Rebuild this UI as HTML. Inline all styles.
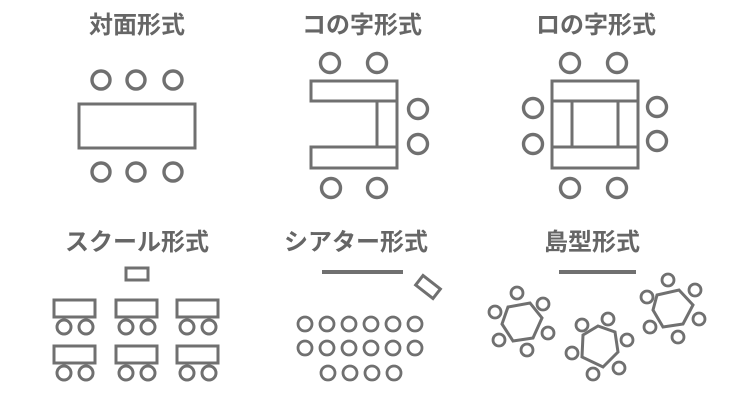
<!DOCTYPE html>
<html><head><meta charset="utf-8"><style>
html,body{margin:0;padding:0;background:#fff;width:750px;height:400px;overflow:hidden}
svg{display:block}
text{font-family:"Liberation Sans","Noto Sans CJK JP",sans-serif;font-weight:bold;font-size:24px;fill:#666;text-anchor:middle}
</style></head><body>
<svg width="750" height="400" viewBox="0 0 750 400" fill="none" stroke="#707070" stroke-width="3">
<g stroke="none">
<text x="137" y="33">対面形式</text>
<text x="362" y="33">コの字形式</text>
<text x="596" y="33">ロの字形式</text>
<text x="137" y="250">スクール形式</text>
<text x="356" y="250">シアター形式</text>
<text x="592" y="250">島型形式</text>
</g>
<!-- facing -->
<rect x="79" y="104" width="116" height="44"/>
<g stroke-width="3.4">
<circle cx="101" cy="80" r="9"/><circle cx="136" cy="80" r="9"/><circle cx="173" cy="80" r="9"/>
<circle cx="101" cy="172" r="9"/><circle cx="136" cy="172" r="9"/><circle cx="173" cy="172" r="9"/>
</g>
<!-- U -->
<rect x="311" y="81" width="86" height="20"/>
<rect x="311" y="147" width="86" height="21"/>
<rect x="377" y="101" width="20" height="46"/>
<g stroke-width="3.4">
<circle cx="330" cy="63" r="9.5"/><circle cx="377" cy="63" r="9.5"/>
<circle cx="418" cy="109" r="9.5"/><circle cx="418" cy="144" r="9.5"/>
<circle cx="331" cy="188" r="9.5"/><circle cx="377" cy="188" r="9.5"/>
</g>
<!-- O -->
<rect x="552" y="81" width="86" height="20"/>
<rect x="552" y="147" width="86" height="21"/>
<rect x="552" y="101" width="20" height="46"/>
<rect x="618" y="101" width="20" height="46"/>
<g stroke-width="3.4">
<circle cx="570" cy="63" r="9.5"/><circle cx="617" cy="63" r="9.5"/>
<circle cx="533" cy="108" r="9.5"/><circle cx="533" cy="144" r="9.5"/>
<circle cx="657" cy="107" r="9.5"/><circle cx="657" cy="141" r="9.5"/>
<circle cx="570" cy="188" r="9.5"/><circle cx="617" cy="188" r="9.5"/>
</g>
<!-- school -->
<rect x="126" y="268" width="22" height="12"/>
<g id="desk">
<rect x="54" y="300" width="41" height="17"/>
<circle cx="64" cy="327" r="7"/><circle cx="86" cy="327" r="7"/>
</g>
<use href="#desk" x="62"/><use href="#desk" x="123"/>
<use href="#desk" y="46"/><use href="#desk" x="62" y="46"/><use href="#desk" x="123" y="46"/>
<!-- theater -->
<line x1="322" y1="272" x2="403" y2="272" stroke-width="4"/>
<rect x="-11" y="-6" width="22" height="12" transform="translate(428,287) rotate(38)"/>
<g stroke-width="2.8">
<circle cx="305" cy="324" r="7"/><circle cx="327" cy="324" r="7"/><circle cx="349" cy="324" r="7"/><circle cx="371" cy="324" r="7"/><circle cx="393" cy="324" r="7"/><circle cx="415" cy="324" r="7"/>
<circle cx="305" cy="348" r="7"/><circle cx="327" cy="348" r="7"/><circle cx="349" cy="348" r="7"/><circle cx="371" cy="348" r="7"/><circle cx="393" cy="348" r="7"/><circle cx="415" cy="348" r="7"/>
<circle cx="328" cy="373" r="7"/><circle cx="350" cy="373" r="7"/><circle cx="372" cy="373" r="7"/><circle cx="394" cy="373" r="7"/>
</g>
<!-- island -->
<line x1="559" y1="272" x2="636" y2="272" stroke-width="4"/>
<polygon points="508,307 530,303 542,318 533,338 513,341 502,324"/>
<polygon points="583,335 598,326 615,332 618,352 603,367 582,357"/>
<polygon points="657,295 679,290 693,305 683,324 663,327 653,310"/>
<g stroke-width="2.8">
<circle cx="517" cy="293" r="6"/><circle cx="543" cy="304" r="6"/><circle cx="548" cy="333" r="6"/><circle cx="527" cy="350" r="6"/><circle cx="499" cy="340" r="6"/><circle cx="495" cy="312" r="6"/>
<circle cx="608" cy="319" r="6"/><circle cx="582" cy="325" r="6"/><circle cx="627" cy="340" r="6"/><circle cx="619" cy="368" r="6"/><circle cx="593" cy="374" r="6"/><circle cx="572" cy="353" r="6"/>
<circle cx="668" cy="280" r="6"/><circle cx="695" cy="290" r="6"/><circle cx="699" cy="319" r="6"/><circle cx="678" cy="337" r="6"/><circle cx="650" cy="327" r="6"/><circle cx="647" cy="297" r="6"/>
</g>
</svg>
</body></html>
